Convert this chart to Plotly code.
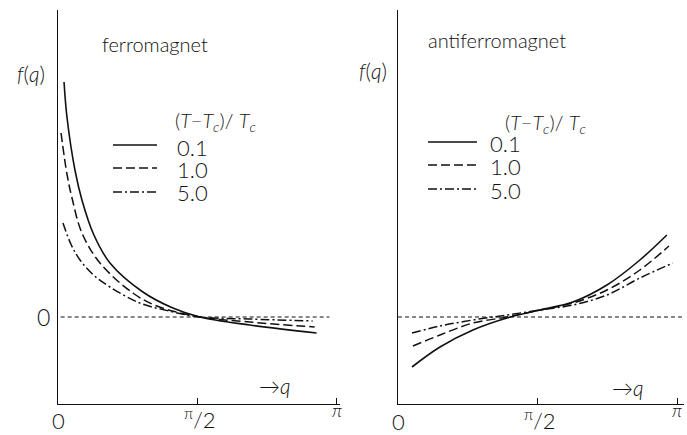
import plotly.graph_objects as go

# ---- data: f(q) curves for three reduced temperatures (T-Tc)/Tc ----
temps = ["0.1", "1.0", "5.0"]

# ferromagnet
q_ferro_01 = [0.068, 0.101, 0.191, 0.270, 0.400, 0.586, 0.957, 1.295, 1.599, 2.162, 2.916]
f_ferro_01 = [2.35, 2.00, 1.47, 1.17, 0.83, 0.54, 0.25, 0.09, 0.00, -0.08, -0.16]
q_ferro_10 = [0.034, 0.101, 0.158, 0.270, 0.473, 0.844, 1.115, 1.599, 2.162, 2.894]
f_ferro_10 = [1.84, 1.43, 1.19, 0.84, 0.54, 0.24, 0.11, 0.00, -0.05, -0.10]
q_ferro_50 = [0.056, 0.150, 0.248, 0.400, 0.586, 0.923, 1.250, 1.599, 2.162, 2.871]
f_ferro_50 = [0.94, 0.72, 0.57, 0.42, 0.30, 0.14, 0.06, 0.00, -0.02, -0.04]

# antiferromagnet
q_anti_01 = [0.157, 0.471, 0.841, 1.223, 1.593, 1.963, 2.345, 2.715, 3.018]
f_anti_01 = [-0.50, -0.30, -0.13, -0.01, 0.07, 0.15, 0.32, 0.57, 0.82]
q_anti_10 = [0.168, 0.471, 0.841, 1.223, 1.593, 1.963, 2.345, 2.715, 3.041]
f_anti_10 = [-0.29, -0.18, -0.06, 0.00, 0.07, 0.14, 0.27, 0.47, 0.71]
q_anti_50 = [0.157, 0.471, 0.841, 1.223, 1.593, 1.963, 2.345, 2.715, 3.085]
f_anti_50 = [-0.16, -0.09, -0.03, 0.02, 0.07, 0.12, 0.22, 0.39, 0.54]

x_tick_vals = [3.14159265 / 2, 3.14159265]

# ---- layout helpers (pixel -> paper) ----
W, H = 687, 435
def px(x):
    return x / W
def py(y):
    return 1 - y / H

FONT = "Lato"
INK = "#111111"
styles = [
    dict(color=INK, width=1.6),
    dict(color=INK, width=1.5, dash="9px,4px"),
    dict(color=INK, width=1.5, dash="9px,3px,2px,3px"),
]

fig = go.Figure()
ferro = [(q_ferro_01, f_ferro_01), (q_ferro_10, f_ferro_10), (q_ferro_50, f_ferro_50)]
anti = [(q_anti_01, f_anti_01), (q_anti_10, f_anti_10), (q_anti_50, f_anti_50)]
for (q, f), st, t in zip(ferro, styles, temps):
    fig.add_trace(go.Scatter(x=q, y=f, mode="lines", line=dict(shape="spline", smoothing=1.0, **st),
                             xaxis="x", yaxis="y", showlegend=False, name=t))
for (q, f), st, t in zip(anti, styles, temps):
    fig.add_trace(go.Scatter(x=q, y=f, mode="lines", line=dict(shape="spline", smoothing=1.0, **st),
                             xaxis="x2", yaxis="y2", showlegend=False, name=t))

axis_common = dict(showgrid=False, zeroline=False, showline=True, linecolor=INK, linewidth=1.3)
fig.update_layout(
    width=W, height=H, margin=dict(l=0, r=0, t=0, b=0),
    paper_bgcolor="white", plot_bgcolor="white",
    xaxis=dict(domain=[px(58), px(340)], range=[0, 3.18], tickvals=x_tick_vals, ticks="inside",
               ticklen=6, tickcolor=INK, tickwidth=1, showticklabels=False, anchor="y", **axis_common),
    yaxis=dict(domain=[py(404), py(10)], range=[-0.87, 3.07], showticklabels=False, ticks="",
               anchor="x", **axis_common),
    xaxis2=dict(domain=[px(398), px(684)], range=[0, 3.21], tickvals=x_tick_vals, ticks="inside",
                ticklen=6, tickcolor=INK, tickwidth=1, showticklabels=False, anchor="y2", **axis_common),
    yaxis2=dict(domain=[py(404), py(10)], range=[-0.87, 3.07], showticklabels=False, ticks="",
                anchor="x2", **axis_common),
)

# thin dashed zero reference lines
zero_style = dict(color=INK, width=1, dash="4px,3px")
fig.add_shape(type="line", xref="x", yref="y", x0=0.03, x1=3.06, y0=0, y1=0, line=zero_style)
fig.add_shape(type="line", xref="x2", yref="y2", x0=0.0, x1=3.21, y0=0, y1=0, line=zero_style)

def text(x, y, s, size=20, xanchor="center"):
    fig.add_annotation(x=px(x), y=py(y), xref="paper", yref="paper", text=s, showarrow=False,
                       xanchor=xanchor, yanchor="middle",
                       font=dict(family=FONT, size=size, color=INK, weight=300))

# panel titles and axis labels
text(155, 44, "ferromagnet", 20)
text(497, 40, "antiferromagnet", 20)
text(31, 73, "<i>f</i>(<i>q</i>)", 21)
text(373, 70, "<i>f</i>(<i>q</i>)", 21)
text(43, 317, "0", 23)
text(274, 385, "→<i>q</i>", 21)
text(627, 387, "→<i>q</i>", 21)

# x tick labels
for x0, xh, xp, yoff in [(58, 200, 337, 0), (398, 540, 677, 1)]:
    text(x0, 420 + yoff, "0", 22)
    text(xh, 418 + yoff, "<sup>π</sup>/2", 22)
    text(xp, 410, "<i>π</i>", 18)

# legends: title, key lines, values
legend_title = "(<i>T</i>−<i>T<sub>c</sub></i>)/ <i>T<sub>c</sub></i>"
text(215, 122, legend_title, 20)
text(545, 123, legend_title, 20)
for (lx0, lx1, tx, rows) in [(113, 157, 175, [(145, 147), (168, 170), (192, 192)]),
                             (428, 477, 488, [(142, 143), (165, 167), (189, 190)])]:
    for st, t, (ly, ty) in zip(styles, temps, rows):
        fig.add_shape(type="line", xref="paper", yref="paper", x0=px(lx0), x1=px(lx1),
                      y0=py(ly), y1=py(ly), line=st)
        text(tx, ty, t, 22, xanchor="left")

fig.write_html("out.html")
